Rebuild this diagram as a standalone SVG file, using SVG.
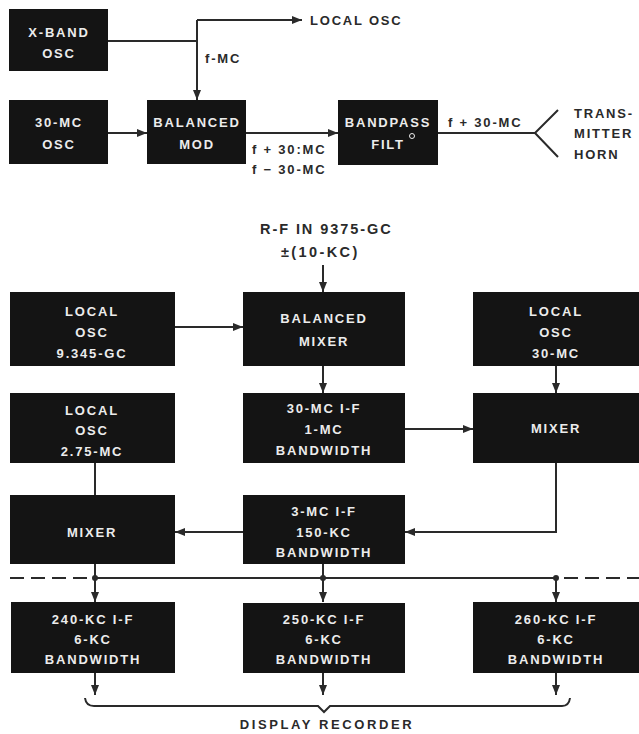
<svg xmlns="http://www.w3.org/2000/svg" width="639" height="734" viewBox="0 0 639 734">
<defs>
<style>
.box{fill:#141414;}
.bt{font-family:"Liberation Sans",Arial,sans-serif;font-weight:bold;font-size:13px;letter-spacing:1.8px;fill:#ececec;text-anchor:middle;}
.lb{font-family:"Liberation Sans",Arial,sans-serif;font-weight:bold;font-size:13px;letter-spacing:1.8px;fill:#2a2a2a;}
.lg{font-family:"Liberation Sans",Arial,sans-serif;font-weight:bold;font-size:14.5px;letter-spacing:2.4px;fill:#2a2a2a;}
.ln{stroke:#2a2a2a;stroke-width:2;fill:none;}
.ar{stroke:#2a2a2a;stroke-width:2;fill:none;marker-end:url(#ah);}
.dash{stroke:#2a2a2a;stroke-width:2;fill:none;stroke-dasharray:14 7;}
</style>
<marker id="ah" viewBox="0 0 10 8" refX="10" refY="4" markerWidth="10" markerHeight="8" markerUnits="userSpaceOnUse" orient="auto">
<path d="M0,0 L10,4 L0,8 Z" fill="#2a2a2a"/>
</marker>
</defs>
<rect width="639" height="734" fill="#ffffff"/>

<g id="connectors">
<path class="ln" d="M108,41 H197"/>
<path class="ar" d="M197,20 V100"/>
<path class="ar" d="M197,20 H302"/>
<path class="ar" d="M108,133 H147"/>
<path class="ar" d="M246,133 H338"/>
<path class="ln" d="M438,133 H535 L558,110 M535,133 L558,157"/>
<path class="ar" d="M323,265 V292"/>
<path class="ar" d="M175,327 H243"/>
<path class="ar" d="M323,366 V393"/>
<path class="ar" d="M556,366 V393"/>
<path class="ar" d="M405,429 H473"/>
<path class="ar" d="M556,463 V532 H405"/>
<path class="ar" d="M243,532 H175"/>
<path class="ln" d="M95,463 V495"/>
<path class="ln" d="M95,564 V578"/>
<path class="ln" d="M323,564 V578"/>
<path class="ln" d="M95,578 H556"/>
<path class="dash" d="M10,578 H90"/>
<path class="dash" d="M564,578 H639"/>
<circle cx="95" cy="578" r="3" fill="#2a2a2a"/>
<circle cx="323" cy="578" r="3" fill="#2a2a2a"/>
<circle cx="556" cy="578" r="3" fill="#2a2a2a"/>
<path class="ar" d="M95,578 V602"/>
<path class="ar" d="M323,578 V602"/>
<path class="ar" d="M556,578 V602"/>
<path class="ar" d="M95,673 V695"/>
<path class="ar" d="M323,673 V695"/>
<path class="ar" d="M556,673 V695"/>
<path class="ln" d="M85,698 Q86,706 94,706 H318 L324,712 L330,706 H562 Q569,706 570,698"/>
</g>

<g id="labels">
<text class="lb" x="310" y="25">LOCAL OSC</text>
<text class="lb" x="205" y="63">f-MC</text>
<text class="lb" x="252" y="154">f + 30:MC</text>
<text class="lb" x="252" y="174">f − 30-MC</text>
<text class="lb" x="448" y="127">f + 30-MC</text>
<text class="lb" x="574" y="118">TRANS-</text>
<text class="lb" x="574" y="138">MITTER</text>
<text class="lb" x="574" y="159">HORN</text>
<text class="lg" x="260" y="234" textLength="133" lengthAdjust="spacing">R-F IN 9375-GC</text>
<text class="lg" x="281" y="257">±(10-KC)</text>
<text class="lb" x="327" y="729" text-anchor="middle" style="letter-spacing:2.6px">DISPLAY RECORDER</text>
</g>

<g id="xband-osc"><rect class="box" x="9" y="9" width="99" height="62"/>
<text class="bt" x="59" y="37">X-BAND</text><text class="bt" x="59" y="58">OSC</text></g>
<g id="osc-30mc"><rect class="box" x="9" y="100" width="99" height="64"/>
<text class="bt" x="59" y="127">30-MC</text><text class="bt" x="59" y="149">OSC</text></g>
<g id="balanced-mod"><rect class="box" x="147" y="100" width="99" height="64"/>
<text class="bt" x="197" y="127">BALANCED</text><text class="bt" x="197" y="149">MOD</text></g>
<g id="bandpass-filt"><rect class="box" x="338" y="100" width="100" height="65"/>
<text class="bt" x="388" y="127">BANDPASS</text><text class="bt" x="388" y="149">FILT</text>
<circle cx="412" cy="136" r="2.5" fill="none" stroke="#ececec" stroke-width="1"/></g>

<g id="local-osc-9345"><rect class="box" x="10" y="292" width="165" height="74"/>
<text class="bt" x="92" y="316">LOCAL</text><text class="bt" x="92" y="337">OSC</text><text class="bt" x="92" y="358">9.345-GC</text></g>
<g id="balanced-mixer"><rect class="box" x="243" y="292" width="162" height="74"/>
<text class="bt" x="324" y="323">BALANCED</text><text class="bt" x="324" y="346">MIXER</text></g>
<g id="local-osc-30"><rect class="box" x="473" y="292" width="166" height="74"/>
<text class="bt" x="556" y="316">LOCAL</text><text class="bt" x="556" y="337">OSC</text><text class="bt" x="556" y="358">30-MC</text></g>

<g id="local-osc-275"><rect class="box" x="10" y="393" width="165" height="70"/>
<text class="bt" x="92" y="415">LOCAL</text><text class="bt" x="92" y="435">OSC</text><text class="bt" x="92" y="456">2.75-MC</text></g>
<g id="if-30mc"><rect class="box" x="243" y="393" width="162" height="70"/>
<text class="bt" x="324" y="413">30-MC I-F</text><text class="bt" x="324" y="434">1-MC</text><text class="bt" x="324" y="455">BANDWIDTH</text></g>
<g id="mixer-right"><rect class="box" x="473" y="393" width="166" height="70"/>
<text class="bt" x="556" y="433">MIXER</text></g>

<g id="mixer-left"><rect class="box" x="10" y="495" width="165" height="69"/>
<text class="bt" x="92" y="537">MIXER</text></g>
<g id="if-3mc"><rect class="box" x="243" y="495" width="162" height="69"/>
<text class="bt" x="324" y="516">3-MC I-F</text><text class="bt" x="324" y="537">150-KC</text><text class="bt" x="324" y="557">BANDWIDTH</text></g>

<g id="if-240kc"><rect class="box" x="11" y="602" width="164" height="71"/>
<text class="bt" x="93" y="624">240-KC I-F</text><text class="bt" x="93" y="644">6-KC</text><text class="bt" x="93" y="664">BANDWIDTH</text></g>
<g id="if-250kc"><rect class="box" x="243" y="603" width="162" height="70"/>
<text class="bt" x="324" y="624">250-KC I-F</text><text class="bt" x="324" y="644">6-KC</text><text class="bt" x="324" y="664">BANDWIDTH</text></g>
<g id="if-260kc"><rect class="box" x="473" y="602" width="166" height="71"/>
<text class="bt" x="556" y="624">260-KC I-F</text><text class="bt" x="556" y="644">6-KC</text><text class="bt" x="556" y="664">BANDWIDTH</text></g>
</svg>
